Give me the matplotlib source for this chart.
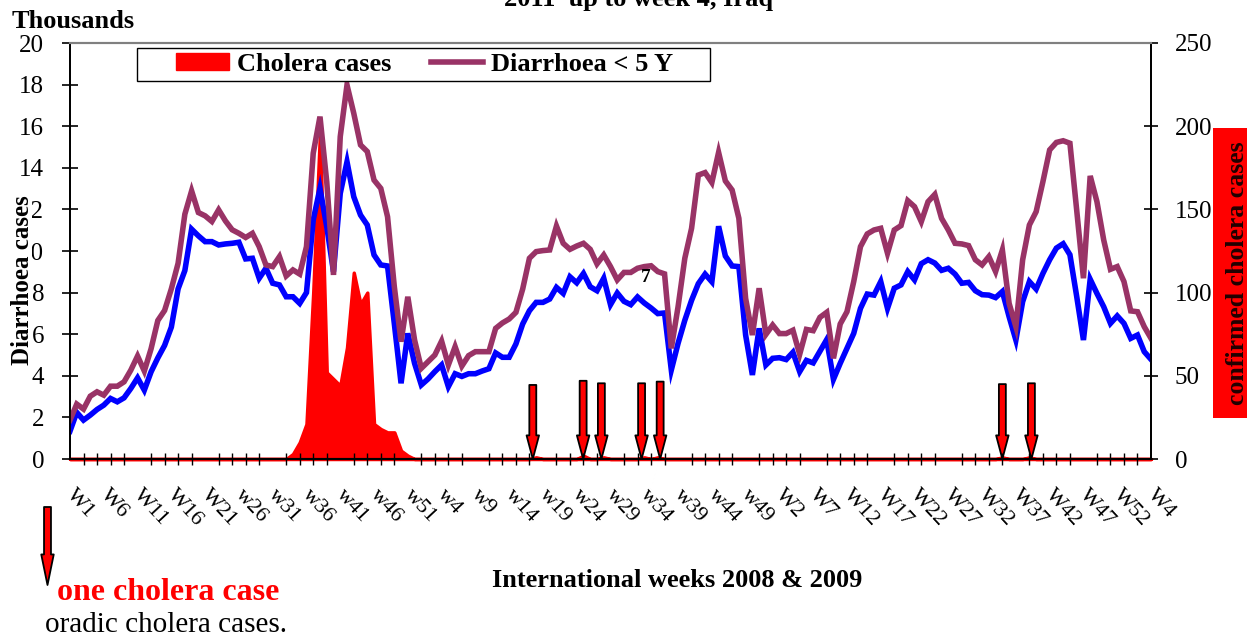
import matplotlib
matplotlib.use("Agg")
import matplotlib.pyplot as plt
import matplotlib.transforms as mtransforms
from matplotlib.patches import Patch, Rectangle
from matplotlib.lines import Line2D
import numpy as np

plt.rcParams['font.family'] = 'Liberation Serif'

# weekly diarrhoea cases (thousands), W1 2008 -> W4 2011, 161 weeks
diarrhoea_u5 = [
    1.87, 2.64, 2.40, 3.02, 3.23, 3.07, 3.50, 3.50, 3.71, 4.27,
    4.95, 4.23, 5.30, 6.66, 7.14, 8.18, 9.41, 11.77, 12.89, 11.85,
    11.69, 11.42, 11.98, 11.45, 11.02, 10.85, 10.65, 10.85, 10.21, 9.33,
    9.25, 9.73, 8.80, 9.09, 8.89, 10.21, 14.70, 16.46, 13.33, 8.85,
    15.50, 17.98, 16.62, 15.10, 14.78, 13.41, 13.01, 11.65, 8.29, 5.64,
    7.80, 5.72, 4.36, 4.68, 5.00, 5.67, 4.52, 5.40, 4.47, 4.97,
    5.16, 5.16, 5.16, 6.28, 6.54, 6.73, 7.05, 8.17, 9.65, 9.97,
    10.02, 10.05, 11.20, 10.37, 10.08, 10.24, 10.37, 10.08, 9.38, 9.81,
    9.25, 8.61, 8.97, 8.97, 9.17, 9.25, 9.29, 9.01, 8.90, 5.32,
    7.32, 9.65, 11.09, 13.65, 13.77, 13.29, 14.74, 13.37, 12.93, 11.57,
    7.72, 5.96, 8.21, 5.99, 6.44, 6.03, 6.03, 6.19, 5.03, 6.23,
    6.17, 6.81, 7.05, 4.84, 6.49, 7.08, 8.53, 10.21, 10.82, 11.01,
    11.09, 9.89, 11.01, 11.22, 12.42, 12.13, 11.41, 12.37, 12.72, 11.57,
    11.01, 10.37, 10.34, 10.26, 9.58, 9.33, 9.73, 9.01, 10.05, 7.48,
    6.36, 9.57, 11.25, 11.89, 13.33, 14.86, 15.22, 15.30, 15.18, 11.97,
    8.69, 13.61, 12.37, 10.53, 9.12, 9.25, 8.53, 7.12, 7.08, 6.36,
    5.80,
]

diarrhoea_other = [
    1.34, 2.24, 1.87, 2.11, 2.38, 2.59, 2.91, 2.75, 2.94, 3.39,
    3.90, 3.31, 4.19, 4.86, 5.46, 6.34, 8.18, 9.06, 11.05, 10.73,
    10.45, 10.45, 10.29, 10.34, 10.37, 10.42, 9.62, 9.65, 8.69, 9.17,
    8.45, 8.37, 7.80, 7.80, 7.48, 8.00, 11.49, 13.01, 11.17, 9.01,
    12.77, 14.29, 12.61, 11.73, 11.25, 9.81, 9.33, 9.28, 6.52, 3.64,
    6.04, 4.60, 3.56, 3.85, 4.20, 4.52, 3.48, 4.10, 3.97, 4.10,
    4.10, 4.23, 4.34, 5.10, 4.89, 4.89, 5.53, 6.49, 7.13, 7.53,
    7.53, 7.69, 8.25, 7.96, 8.76, 8.47, 8.92, 8.28, 8.09, 8.69,
    7.42, 7.98, 7.58, 7.42, 7.79, 7.50, 7.26, 6.99, 7.02, 4.28,
    5.56, 6.67, 7.63, 8.43, 8.89, 8.52, 11.19, 9.76, 9.28, 9.25,
    5.96, 4.04, 6.28, 4.52, 4.84, 4.87, 4.78, 5.13, 4.20, 4.74,
    4.62, 5.18, 5.74, 3.83, 4.60, 5.32, 6.04, 7.24, 7.93, 7.88,
    8.53, 7.24, 8.21, 8.37, 9.01, 8.61, 9.39, 9.58, 9.42, 9.07,
    9.17, 8.89, 8.45, 8.49, 8.09, 7.90, 7.88, 7.76, 8.05, 6.84,
    5.72, 7.56, 8.53, 8.17, 8.92, 9.58, 10.14, 10.35, 9.82, 7.82,
    5.72, 8.64, 7.96, 7.32, 6.52, 6.88, 6.52, 5.80, 5.96, 5.16,
    4.79,
]

# weeks (index from W1 2008) with confirmed cholera cases, all others are 0
cholera_weeks = [33, 34, 35, 36, 37, 38, 39, 40, 41, 42, 43, 44, 45, 46, 47, 48, 49, 50,
                 69, 76, 79, 85, 87, 138, 142]
cholera_counts = [3, 10, 21, 100, 196, 52, 48, 44, 67, 112, 93, 100, 21, 18, 16, 16, 5, 2,
                  1, 2, 1, 1, 1, 1, 1]

# x labels, one every 5 weeks
week_labels = ["W1", "W6", "W11", "W16", "W21", "w26", "w31", "w36", "w41", "w46", "w51",
               "w4", "w9", "w14", "w19", "w24", "w29", "w34", "w39", "w44", "w49",
               "W2", "W7", "W12", "W17", "W22", "W27", "W32", "W37", "W42", "W47", "W52", "W4"]

# sporadic single cases marked with arrows (week position, arrow top in cases)
arrow_weeks = [68.5, 75.95, 78.65, 84.6, 87.35, 138.0, 142.3]
arrow_tops = [44.5, 47, 45.5, 45.5, 46.5, 45, 45.5]

n_weeks = len(diarrhoea_u5)
x = np.arange(n_weeks)
cholera = np.zeros(n_weeks)
cholera[cholera_weeks] = cholera_counts

fig = plt.figure(figsize=(12.47, 6.37), dpi=100)
ax = fig.add_axes([70 / 1247, 1 - 459 / 637, 1081 / 1247, 416 / 637])
ax2 = ax.twinx()
ax.set_zorder(ax2.get_zorder() + 1)
ax.patch.set_visible(False)

# cholera area on the right axis
ax2.fill_between(x, cholera, facecolor='red', edgecolor='red', linewidth=2.5, clip_on=False)
for xa, top in zip(arrow_weeks, arrow_tops):
    ax2.annotate('', xy=(xa, 0), xytext=(xa, top),
                 arrowprops=dict(arrowstyle='simple,head_length=0.85,head_width=0.45,tail_width=0.25',
                                 fc='red', ec='black', lw=1.3, shrinkA=0, shrinkB=0,
                                 mutation_scale=20))
ax2.set_ylim(0, 250)
ax2.set_yticks(range(0, 251, 50))
ax2.tick_params(axis='y', direction='inout', length=10, width=1.2, labelsize=18, pad=12)

# diarrhoea lines
ax.plot(x, diarrhoea_other, color='#0000FF', lw=4.0, solid_joinstyle='miter')
ax.plot(x, diarrhoea_u5, color='#993366', lw=4.0, solid_joinstyle='miter')
ax.text(85.2, 8.75, '7', fontsize=14, fontweight='bold', ha='center', va='center')

ax.set_xlim(0, n_weeks - 1)
ax.set_ylim(0, 20)
ax.set_yticks(range(0, 21, 2))
ax.tick_params(axis='y', direction='inout', length=11, width=1.2, labelsize=18, pad=13)

ax.set_xticks(x[::5])
ax.set_xticks(x[::2], minor=True)
ax.set_xticklabels(week_labels, rotation=-47, ha='left', va='top', rotation_mode='anchor', fontsize=16)
ax.tick_params(axis='x', which='major', length=0, pad=19)
ax.tick_params(axis='x', which='minor', direction='inout', length=9, width=1)
offset = mtransforms.ScaledTranslation(6 / 100, 0, fig.dpi_scale_trans)
for lab in ax.get_xticklabels():
    lab.set_transform(lab.get_transform() + offset)

for a in (ax, ax2):
    a.spines['top'].set_color('#808080')
    a.spines['top'].set_linewidth(1.5)
    a.spines['left'].set_linewidth(1.3)
    a.spines['right'].set_linewidth(1.3)
    a.spines['bottom'].set_linewidth(1.5)

# legend with plain box
ax.add_patch(Rectangle((0.062, 0.909), 0.530, 0.079, transform=ax.transAxes,
                       fc='white', ec='black', lw=1, zorder=5))
handles = [Patch(color='red'), Line2D([], [], color='#993366', lw=4.0)]
leg = ax.legend(handles, ['Cholera cases', 'Diarrhoea < 5 Y'], ncol=2, frameon=False,
                loc='center left', bbox_to_anchor=(0.098, 0.948), borderpad=0, borderaxespad=0,
                handlelength=2.0, handleheight=0.6, handletextpad=0.3, columnspacing=1.5,
                prop={'weight': 'bold', 'size': 19})
leg.set_zorder(6)

# axis titles and notes
ax.text(-0.0435, 0.43, 'Diarrhoea cases', transform=ax.transAxes, rotation=90,
        ha='center', va='center', fontsize=18, fontweight='bold',
        bbox=dict(fc='white', ec='none', pad=-2))
fig.text(1237 / 1247, 1 - 273 / 637, 'confirmed cholera cases', rotation=90, ha='center', va='center',
         fontsize=18.5, fontweight='bold', color='#200000',
         bbox=dict(boxstyle='square,pad=0.5', fc='red', ec='none'))
fig.text(12 / 1247, 1 - 28 / 637, 'Thousands', fontsize=19, fontweight='bold', va='baseline')
fig.text(639 / 1247, 1 - 6 / 637, '2011  up to week 4, Iraq', fontsize=19, fontweight='bold',
         ha='center', va='baseline')
fig.text(677 / 1247, 1 - 587 / 637, 'International weeks 2008 & 2009', fontsize=19,
         fontweight='bold', ha='center', va='baseline')

fig.text(57 / 1247, 1 - 600 / 637, 'one cholera case', fontsize=23, fontweight='bold',
         color='red', va='baseline')
fig.text(45 / 1247, 1 - 632 / 637, 'oradic cholera cases.', fontsize=21, va='baseline')
ax.annotate('', xy=(47.5, 637 - 585), xycoords='figure pixels', xytext=(47.5, 637 - 507),
            textcoords='figure pixels',
            arrowprops=dict(arrowstyle='simple,head_length=1.1,head_width=0.45,tail_width=0.25',
                            fc='red', ec='black', lw=1.3, shrinkA=0, shrinkB=0, mutation_scale=20),
            annotation_clip=False)

fig.savefig('out.png', dpi=100)
